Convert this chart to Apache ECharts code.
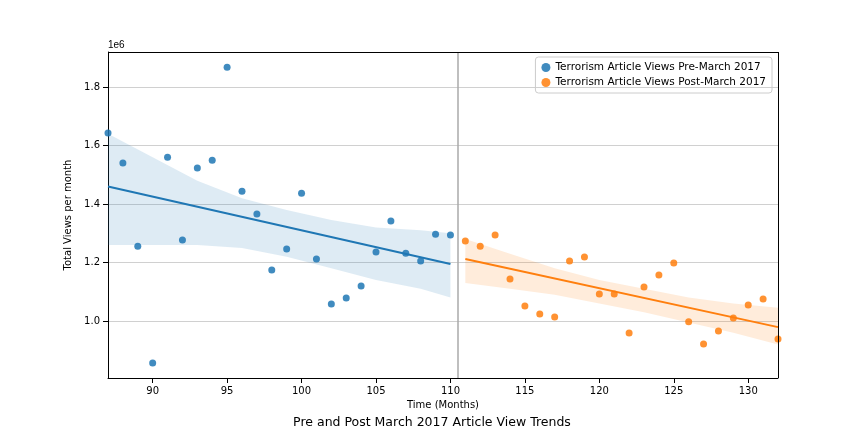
<!DOCTYPE html>
<html>
<head>
<meta charset="utf-8">
<script src="https://cdn.jsdelivr.net/npm/echarts@6/dist/echarts.min.js"></script>
<style>html,body{margin:0;padding:0;background:#fff}#main{width:864px;height:432px}</style>
</head>
<body>
<div id="main"></div>
<script>
// values in millions of views
var preMonths = [87,88,89,90,91,92,93,94,95,96,97,98,99,100,101,102,103,104,105,106,107,108,109,110];
var preViews = [1.643,1.540,1.256,0.856,1.560,1.277,1.523,1.550,1.868,1.444,1.366,1.174,1.246,1.437,1.212,1.058,1.079,1.120,1.236,1.342,1.232,1.205,1.297,1.294];
var postMonths = [111,112,113,114,115,116,117,118,119,120,121,122,123,124,125,126,127,128,129,130,131,132];
var postViews = [1.274,1.256,1.294,1.144,1.051,1.024,1.014,1.205,1.219,1.092,1.092,0.959,1.116,1.157,1.198,0.997,0.921,0.966,1.010,1.055,1.075,0.938];
// fitted lines (endpoints)
var preFitX = [87,110], preFitY = [1.460,1.195];
var postFitX = [111,132], postFitY = [1.212,0.979];
// confidence bands
var preBandX = [87,90,93,96,99,102,105,108,110];
var preBandUp = [1.64,1.56,1.48,1.42,1.38,1.345,1.32,1.31,1.30];
var preBandLo = [1.26,1.26,1.26,1.25,1.22,1.18,1.14,1.11,1.08];
var postBandX = [111,114,117,120,123,126,129,132];
var postBandUp = [1.28,1.23,1.18,1.14,1.11,1.08,1.06,1.045];
var postBandLo = [1.13,1.11,1.09,1.06,1.03,0.995,0.96,0.92];
var xTicks = [90,95,100,105,110,115,120,125,130];
var yTicks = [1.0,1.2,1.4,1.6,1.8];

var zip = function (a, b) {
    var out = [];
    for (var i = 0; i < a.length; i++) { out.push([a[i], b[i]]); }
    return out;
};
var band = function (xs, up, lo, color) {
    return {
        type: 'custom', silent: true, z: 1,
        data: [0],
        renderItem: function (params, api) {
            var pts = [];
            for (var i = 0; i < xs.length; i++) pts.push(api.coord([xs[i], up[i]]));
            for (var j = xs.length - 1; j >= 0; j--) pts.push(api.coord([xs[j], lo[j]]));
            return { type: 'polygon', shape: { points: pts }, style: { fill: color } };
        }
    };
};

var myChart = echarts.init(document.getElementById('main'));
var option = {
    animation: false,
    textStyle: { fontFamily: 'DejaVu Sans' },
    grid: { left: 108, right: 86, top: 52, bottom: 54 },
    title: {
        text: 'Pre and Post March 2017 Article View Trends',
        left: 'center', top: 411,
        textStyle: { fontSize: 12.5, fontWeight: 'normal', color: '#000' }
    },
    graphic: [{ type: 'text', left: 108, top: 40, style: { text: '1e6', fontSize: 10, fill: '#000' } }],
    legend: {
        right: 92, top: 57, orient: 'vertical', itemGap: 4,
        borderColor: '#ccc', borderWidth: 1, borderRadius: 3, padding: [5, 6],
        itemWidth: 9, itemHeight: 9,
        textStyle: { fontSize: 10.5, color: '#000' },
        data: ['Terrorism Article Views Pre-March 2017', 'Terrorism Article Views Post-March 2017']
    },
    xAxis: {
        type: 'value', min: 87, max: 132,
        name: 'Time (Months)', nameLocation: 'middle', nameGap: 20,
        nameTextStyle: { fontSize: 10, color: '#000' },
        axisLine: { onZero: false, lineStyle: { color: '#000' } },
        axisTick: { show: true, customValues: xTicks, lineStyle: { color: '#000' } },
        axisLabel: { customValues: xTicks, fontSize: 10, color: '#000' },
        splitLine: { show: false }
    },
    yAxis: {
        type: 'value', min: 0.805, max: 1.92,
        name: 'Total Views per month', nameLocation: 'middle', nameGap: 32,
        nameTextStyle: { fontSize: 10, color: '#000' },
        axisLine: { show: true, lineStyle: { color: '#000' } },
        axisTick: { show: true, customValues: yTicks, lineStyle: { color: '#000' } },
        axisLabel: { customValues: yTicks, fontSize: 10, color: '#000', formatter: function (v) { return v.toFixed(1); } },
        splitLine: { show: true, customValues: yTicks, lineStyle: { color: '#d0d0d0' } }
    },
    series: [
        band(preBandX, preBandUp, preBandLo, 'rgba(31,119,180,0.15)'),
        band(postBandX, postBandUp, postBandLo, 'rgba(255,127,14,0.15)'),
        {
            name: 'Terrorism Article Views Pre-March 2017', type: 'scatter', symbolSize: 7, z: 3,
            itemStyle: { color: '#1f77b4', opacity: 0.85 }, data: zip(preMonths, preViews)
        },
        {
            name: 'Terrorism Article Views Post-March 2017', type: 'scatter', symbolSize: 7, z: 3,
            itemStyle: { color: '#ff7f0e', opacity: 0.85 }, data: zip(postMonths, postViews)
        },
        {
            type: 'line', data: zip(preFitX, preFitY), symbol: 'none', z: 4,
            lineStyle: { color: '#1f77b4', width: 2 },
            markLine: {
                silent: true, symbol: 'none', label: { show: false },
                lineStyle: { color: '#aaa', type: 'solid', width: 1.5 },
                data: [{ xAxis: 110.5 }]
            }
        },
        {
            type: 'line', data: zip(postFitX, postFitY), symbol: 'none', z: 4,
            lineStyle: { color: '#ff7f0e', width: 2 }
        },
        {
            type: 'line', data: [], markLine: {
                silent: true, symbol: 'none', label: { show: false },
                lineStyle: { color: '#000', type: 'solid', width: 1 },
                data: [{ yAxis: 1.92 }, { xAxis: 132 }]
            }
        }
    ]
};
myChart.setOption(option);
</script>
</body>
</html>
